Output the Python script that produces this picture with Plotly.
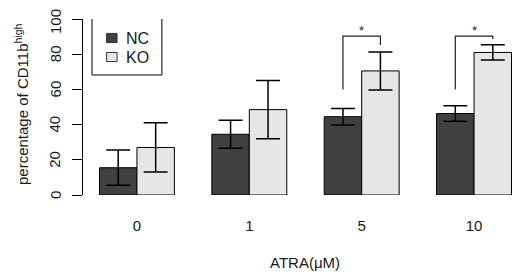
import plotly.graph_objects as go

categories = ["0", "1", "5", "10"]
nc_values = [15.5, 34.5, 44.5, 46.3]
nc_errors = [10.0, 8.0, 4.7, 4.4]
ko_values = [27.0, 48.5, 70.5, 81.0]
ko_errors = [14.0, 16.5, 10.8, 4.3]
y_ticks = [0, 20, 40, 60, 80, 100]
# significance brackets: (group index, left end, top, right end)
sig_groups = [2, 3]
sig_left = [60, 60]
sig_top = [90.3, 90.3]
sig_right = [85.2, 88.6]

NC_COLOR = "#404040"
KO_COLOR = "#e6e6e6"
FONT = "Liberation Sans, Arial, sans-serif"
TXT = "#1a1a1a"

xs = list(range(len(categories)))
off = 1 / 6

fig = go.Figure()
fig.add_trace(go.Bar(
    x=[x - off for x in xs], y=nc_values, width=1/3, name="NC",
    marker=dict(color=NC_COLOR, line=dict(color="black", width=1)),
    error_y=dict(type="data", array=nc_errors, color="black", thickness=1.5, width=12),
))
fig.add_trace(go.Bar(
    x=[x + off for x in xs], y=ko_values, width=1/3, name="KO",
    marker=dict(color=KO_COLOR, line=dict(color="black", width=1)),
    error_y=dict(type="data", array=ko_errors, color="black", thickness=1.5, width=12),
))

for g, l, t, r in zip(sig_groups, sig_left, sig_top, sig_right):
    fig.add_trace(go.Scatter(
        x=[g - off, g - off, g + off, g + off], y=[l, t, t, r],
        mode="lines", line=dict(color="#222222", width=1.2),
        showlegend=False, hoverinfo="skip",
    ))
    fig.add_annotation(x=g, y=t + 3.2, text="*", showarrow=False,
                       font=dict(size=13, color="#222222", family=FONT),
                       yanchor="middle")

# legend box (drawn manually to mirror the base-R legend)
fig.add_shape(type="rect", xref="x", yref="y", x0=-0.40, x1=0.222, y0=68.2, y1=100.6,
              line=dict(color="black", width=1), fillcolor="white", layer="above")
for name, color, yy in [("NC", NC_COLOR, 89.2), ("KO", KO_COLOR, 78.4)]:
    fig.add_shape(type="rect", xref="x", yref="y", x0=-0.270, x1=-0.177,
                  y0=yy - 2.6, y1=yy + 2.6,
                  line=dict(color="#333333", width=1), fillcolor=color, layer="above")
    fig.add_annotation(x=-0.115, y=yy, xref="x", yref="y", text=name, showarrow=False,
                       xanchor="left", yanchor="middle",
                       font=dict(size=16, color=TXT, family=FONT))

# y tick labels (parallel to the axis, as in base R); the top one is nudged to stay inside
for v in y_ticks:
    fig.add_annotation(xref="paper", yref="y", x=-(83 - 55) / 436, y=v, text=str(v),
                       showarrow=False, textangle=-90, xanchor="center", yanchor="middle",
                       yshift=-3 if v == max(y_ticks) else 0,
                       font=dict(size=15, color=TXT, family=FONT))

# axis titles as annotations in paper coordinates of the plot area
fig.add_annotation(xref="paper", yref="paper", x=(305 - 83) / 436, y=-(262 - 195) / 176,
                   text="ATRA(μM)", showarrow=False, xanchor="center", yanchor="middle",
                   font=dict(size=15, color=TXT, family=FONT))
fig.add_annotation(xref="paper", yref="paper", x=-(83 - 21) / 436, y=(195 - 105) / 176,
                   text="percentage of CD11b<sup>high</sup>", showarrow=False, textangle=-90,
                   xanchor="center", yanchor="middle",
                   font=dict(size=15, color=TXT, family=FONT))

# the page body adds an 8px offset, so the figure is 512x270 with shifted margins
fig.update_layout(
    width=512, height=270,
    margin=dict(l=75, r=1, t=11, b=83, autoexpand=False),
    paper_bgcolor="white", plot_bgcolor="white",
    barmode="overlay", showlegend=False,
    font=dict(family=FONT, color=TXT, size=15),
    xaxis=dict(
        range=[-0.48, 3.40], tickvals=xs, ticktext=categories,
        showline=False, showgrid=False, zeroline=False, ticks="",
        ticklabelstandoff=20, tickfont=dict(size=15), automargin=False,
        fixedrange=True,
    ),
    yaxis=dict(
        range=[0, 100], tickvals=y_ticks, showline=True, linecolor="black", linewidth=1,
        ticks="outside", ticklen=10, tickcolor="black", tickwidth=1,
        showgrid=False, zeroline=False, showticklabels=False, automargin=False,
    ),
)

fig.write_html("out.html")
